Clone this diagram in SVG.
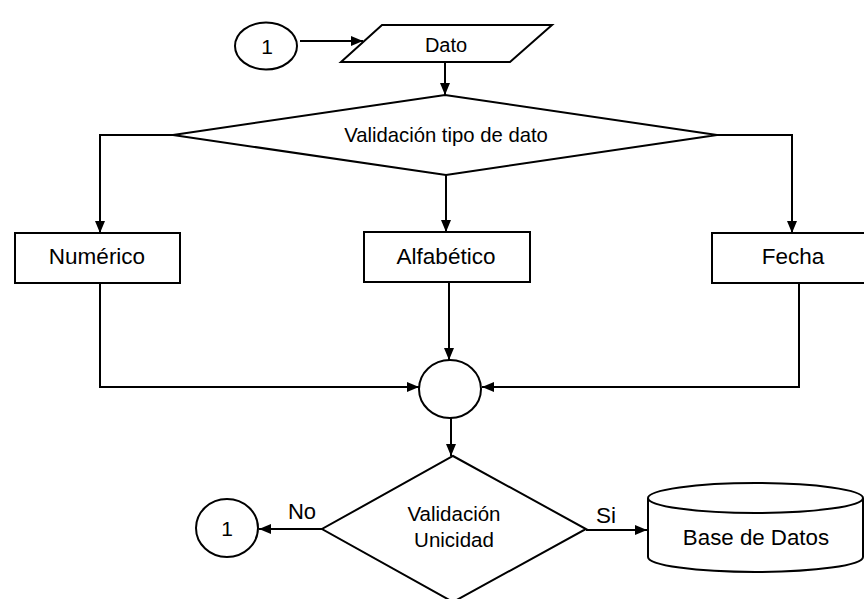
<svg xmlns="http://www.w3.org/2000/svg" width="864" height="599" viewBox="0 0 864 599">
<defs>
<marker id="ah" viewBox="0 0 12 10" refX="12" refY="5" markerWidth="12" markerHeight="10" markerUnits="userSpaceOnUse" orient="auto">
<path d="M0,0 L12,5 L0,10 Z" fill="#000"/>
</marker>
</defs>
<style>
.s{fill:#fff;stroke:#000;stroke-width:2}
.c{fill:none;stroke:#000;stroke-width:2;marker-end:url(#ah)}
.t{font-family:"Liberation Sans",Arial,sans-serif;fill:#000;text-anchor:middle}
</style>
<rect width="864" height="599" fill="#fff"/>
<g id="connectors">
<path class="c" d="M300,41 H363"/>
<path class="c" d="M445,62 V95"/>
<path class="c" d="M173,135 H100 V233"/>
<path class="c" d="M446,175 V232"/>
<path class="c" d="M717,135 H792 V233"/>
<path class="c" d="M100,283 V387 H419"/>
<path class="c" d="M449,282 V360"/>
<path class="c" d="M799,283 V387 H482"/>
<path class="c" d="M451,418 V456"/>
<path class="c" d="M322,529 H259"/>
<path class="c" d="M586,530 H647"/>
<text class="t" x="302" y="519" font-size="22">No</text>
<text class="t" x="606" y="523" font-size="22.5">Si</text>
</g>
<g id="conn1">
<ellipse class="s" cx="266" cy="46" rx="31" ry="23.5"/>
<text class="t" x="267" y="54" font-size="21">1</text>
</g>
<g id="dato">
<path class="s" d="M382,25 H552 L510,62 H341 Z"/>
<text class="t" x="446" y="52" font-size="20">Dato</text>
</g>
<g id="tipo">
<path class="s" d="M445,95 L717,135 L446,175 L173,135 Z"/>
<text class="t" x="446" y="142" font-size="20.3">Validación tipo de dato</text>
</g>
<g id="numerico">
<rect class="s" x="15" y="233" width="165" height="50"/>
<text class="t" x="97" y="264" font-size="22.5">Numérico</text>
</g>
<g id="alfabetico">
<rect class="s" x="364" y="232" width="166" height="50"/>
<text class="t" x="446" y="264" font-size="22.5">Alfabético</text>
</g>
<g id="fecha">
<rect class="s" x="712" y="233" width="165" height="50"/>
<text class="t" x="793" y="264" font-size="22.5">Fecha</text>
</g>
<g id="merge">
<ellipse class="s" cx="450" cy="389" rx="31" ry="29"/>
</g>
<g id="unicidad">
<path class="s" d="M453,456 L586,529 L453,602 L322,529 Z"/>
<text class="t" x="454" y="521" font-size="20.5">Validación</text>
<text class="t" x="454" y="547" font-size="20.5">Unicidad</text>
</g>
<g id="conn1b">
<ellipse class="s" cx="227" cy="528" rx="31" ry="29"/>
<text class="t" x="227" y="536" font-size="21">1</text>
</g>
<g id="bd">
<path class="s" d="M648,498 V557 A107.5,15 0 0 0 863,557 V498"/>
<ellipse class="s" cx="755.5" cy="498" rx="107.5" ry="15"/>
<text class="t" x="756" y="545" font-size="22.3">Base de Datos</text>
</g>
</svg>
